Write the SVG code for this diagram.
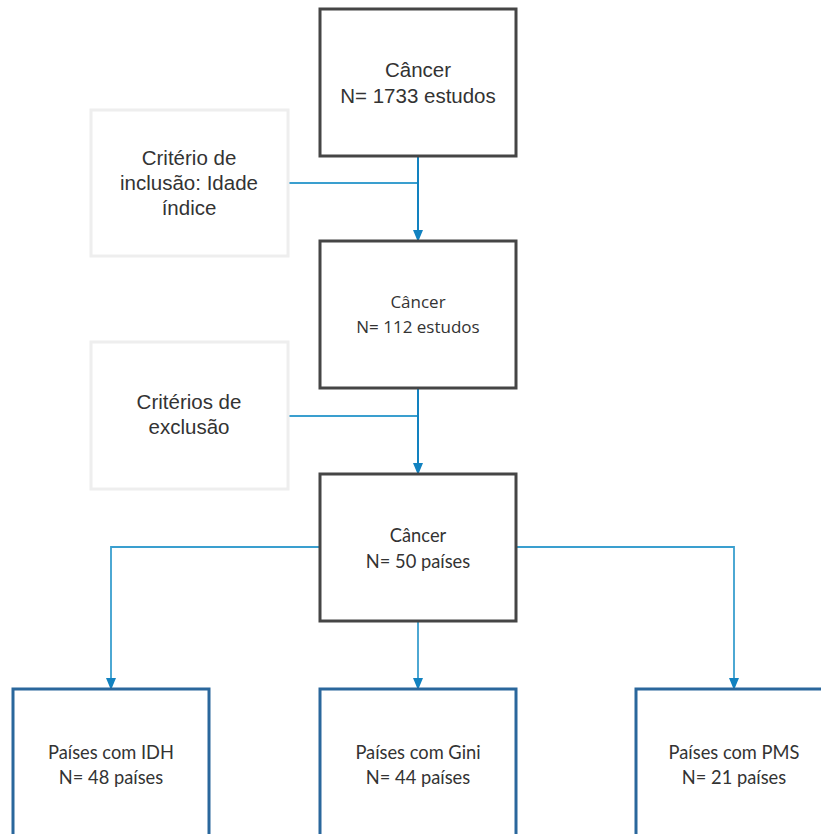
<svg xmlns="http://www.w3.org/2000/svg" width="821" height="834" viewBox="0 0 821 834">
<style>
.main{fill:#fff;stroke:#454545;stroke-width:3}
.side{fill:#fff;stroke:#eeeeee;stroke-width:3}
.out{fill:#fff;stroke:#2a679c;stroke-width:3}
.big{font-family:"Liberation Sans",Arial,sans-serif;font-size:20.5px;fill:#333;text-anchor:middle}
.seg{font-family:"Open Sans","Noto Sans",sans-serif;font-size:17px;fill:#333;text-anchor:middle}
.cal{font-family:"Lato","Open Sans",sans-serif;font-size:18.3px;fill:#333;text-anchor:middle}
.con{fill:none;stroke:#3a9fcf;stroke-width:1.8}
.arr{fill:none;stroke:#1282c0;stroke-width:2}
</style>
<defs>
<marker id="ah" markerWidth="12" markerHeight="10" refX="11" refY="5" orient="auto" markerUnits="userSpaceOnUse">
<path d="M0,0 L12,5 L0,10 Z" fill="#1282c0"/>
</marker>
</defs>
<rect width="821" height="834" fill="#fff"/>
<g id="connectors">
<path class="con" d="M288,183 H418"/>
<path class="arr" d="M418,156 V241" marker-end="url(#ah)"/>
<path class="con" d="M288,416 H418"/>
<path class="arr" d="M418,388 V474" marker-end="url(#ah)"/>
<path class="con" d="M320,547 H111 V689" marker-end="url(#ah)"/>
<path class="con" d="M516,547 H734 V689" marker-end="url(#ah)"/>
<path class="con" d="M418,621 V689" marker-end="url(#ah)"/>
</g>
<g id="n1">
<rect class="main" x="320" y="9" width="196" height="147"/>
<text class="big" x="418" y="77">Câncer</text>
<text class="big" x="418" y="103">N= 1733 estudos</text>
</g>
<g id="s1">
<rect class="side" x="91" y="110" width="197" height="146"/>
<text class="big" x="189" y="165">Critério de</text>
<text class="big" x="189" y="190">inclusão: Idade</text>
<text class="big" x="189" y="215">índice</text>
</g>
<g id="n2">
<rect class="main" x="320" y="241" width="196" height="147"/>
<text class="seg" x="418" y="308">Câncer</text>
<text class="seg" x="418" y="333">N= 112 estudos</text>
</g>
<g id="s2">
<rect class="side" x="91" y="342" width="197" height="147"/>
<text class="big" x="189" y="409">Critérios de</text>
<text class="big" x="189" y="434">exclusão</text>
</g>
<g id="n3">
<rect class="main" x="320" y="474" width="196" height="147"/>
<text class="cal" x="418" y="542">Câncer</text>
<text class="cal" x="418" y="568">N= 50 países</text>
</g>
<g id="o1">
<rect class="out" x="13" y="689" width="196" height="160"/>
<text class="cal" x="111" y="759">Países com IDH</text>
<text class="cal" x="111" y="784">N= 48 países</text>
</g>
<g id="o2">
<rect class="out" x="320" y="689" width="196" height="160"/>
<text class="cal" x="418" y="759">Países com Gini</text>
<text class="cal" x="418" y="784">N= 44 países</text>
</g>
<g id="o3">
<rect class="out" x="636" y="689" width="196" height="160"/>
<text class="cal" x="734" y="759">Países com PMS</text>
<text class="cal" x="734" y="784">N= 21 países</text>
</g>
</svg>
